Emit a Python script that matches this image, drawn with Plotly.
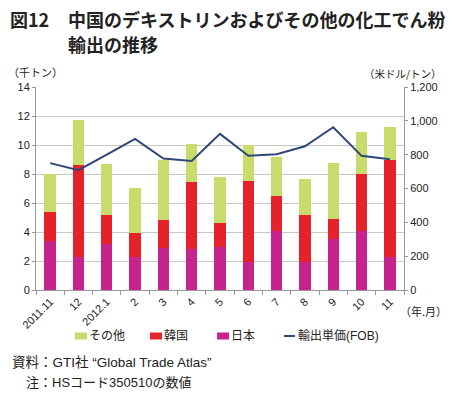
import plotly.graph_objects as go

months = ["2011.11", "12", "2012.1", "2", "3", "4", "5", "6", "7", "8", "9", "10", "11"]
japan = [3.35, 2.25, 3.15, 2.25, 2.9, 2.85, 3.0, 1.9, 4.05, 1.9, 3.5, 4.1, 2.3]
korea = [2.05, 6.35, 2.05, 1.65, 1.95, 4.6, 1.6, 5.65, 2.45, 3.3, 1.4, 3.9, 6.65]
other = [2.6, 3.15, 3.5, 3.15, 4.15, 2.65, 3.2, 2.45, 2.7, 2.45, 3.85, 2.9, 2.3]
price = [750, 708, 800, 893, 777, 763, 923, 793, 803, 850, 962, 793, 773]

JP = "Noto Sans CJK JP"
MIX = "Liberation Sans, Noto Sans CJK JP"
C_OTHER = "#C8DC6E"
C_KOREA = "#E52229"
C_JAPAN = "#C6238C"
C_LINE = "#2F4777"

W, H = 453, 396
L, R, T, B = 36, 404, 87, 290

fig = go.Figure()
fig.add_trace(go.Bar(x=months, y=japan, name="日本", marker=dict(color=C_JAPAN, line=dict(width=0)), width=0.4))
fig.add_trace(go.Bar(x=months, y=korea, name="韓国", marker=dict(color=C_KOREA, line=dict(width=0)), width=0.4))
fig.add_trace(go.Bar(x=months, y=other, name="その他", marker=dict(color=C_OTHER, line=dict(width=0)), width=0.4))
fig.add_trace(go.Scatter(x=months, y=price, name="輸出単価(FOB)", yaxis="y2", mode="lines",
                         line=dict(color=C_LINE, width=2)))

fig.update_layout(
    width=W, height=H,
    margin=dict(l=L, r=W - R, t=T, b=H - B, autoexpand=False),
    paper_bgcolor="white", plot_bgcolor="white",
    barmode="stack",
    font=dict(family=JP, size=11, color="#222"),
    showlegend=False,
    xaxis=dict(type="category", tickangle=-45, showline=True, linecolor="#999", linewidth=1,
               ticks="outside", tickson="boundaries", ticklen=4, tickcolor="#999",
               tickfont=dict(family="Liberation Sans", size=11, color="#222"), showgrid=False),
    yaxis=dict(range=[0, 14], dtick=2, showline=True, linecolor="#999", linewidth=1,
               ticks="outside", ticklen=3, tickcolor="#999",
               gridcolor="#C8C8C8", gridwidth=1, zeroline=False,
               tickfont=dict(family="Liberation Sans", size=11, color="#222")),
    yaxis2=dict(range=[0, 1200], dtick=200, overlaying="y", side="right", tickformat=",",
                showline=True, linecolor="#999", linewidth=1, ticks="outside", ticklen=3,
                tickcolor="#999", showgrid=False, zeroline=False,
                tickfont=dict(family="Liberation Sans", size=11, color="#222")),
)


def px_x(px):
    return (px - L) / (R - L)


def px_y(py):
    return (B - py) / (B - T)


def text_at(text, px, py, size, xanchor="left", bold=False, family=JP):
    if bold:
        text = "<b>" + text + "</b>"
    return dict(text=text, x=px_x(px), y=px_y(py), xref="paper", yref="paper", xanchor=xanchor,
                yanchor="middle", showarrow=False, font=dict(family=family, size=size, color="#222"))


ann = [
    text_at("図12", 8, 19, 18, bold=True),
    text_at("中国のデキストリンおよびその他の化工でん粉", 66, 19, 18, bold=True),
    text_at("輸出の推移", 66, 44, 18, bold=True),
    text_at("（千トン）", 6, 72, 11),
    text_at("（米ドル/トン）", 444, 73, 10.5, xanchor="right"),
    text_at("（年.月）", 398, 311, 11),
    text_at("資料：GTI社 “Global Trade Atlas”", 10, 362, 13.5, family=MIX),
    text_at("注：HSコード350510の数値", 24, 382, 13, family=MIX),
]

# custom legend
legend_items = [("その他", C_OTHER, 75, "box"), ("韓国", C_KOREA, 150, "box"),
                ("日本", C_JAPAN, 217, "box"), ("輸出単価(FOB)", C_LINE, 284, "line")]
shapes = []
ly = 336
for name, col, x0, kind in legend_items:
    if kind == "box":
        shapes.append(dict(type="rect", xref="paper", yref="paper", x0=px_x(x0), x1=px_x(x0 + 12),
                           y0=px_y(ly + 3.5), y1=px_y(ly - 3.5), fillcolor=col, line=dict(width=0)))
    else:
        shapes.append(dict(type="line", xref="paper", yref="paper", x0=px_x(x0), x1=px_x(x0 + 11),
                           y0=px_y(ly), y1=px_y(ly), line=dict(color=col, width=2)))
    ann.append(text_at(name, x0 + 12, ly, 12, family=MIX))

fig.update_layout(annotations=ann, shapes=shapes)

fig.write_html("out.html", config={"displayModeBar": False},
               post_script="document.body.style.margin='0';document.body.style.padding='0';")
